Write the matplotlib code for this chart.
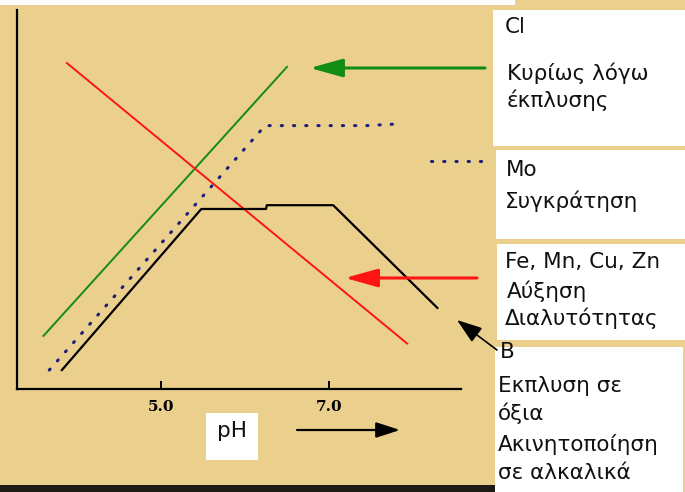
import matplotlib
matplotlib.use("Agg")
import matplotlib.pyplot as plt
from matplotlib.patches import Rectangle

# ---- data (pH vs relative availability, 0-100) ----
cl_ph = [3.60, 6.50]
cl_val = [14, 85]
fe_ph = [3.88, 7.93]
fe_val = [86, 12]
mo_ph = [3.67, 6.24, 7.45, 7.87]
mo_val = [5, 69.5, 69.5, 70]
b_ph = [3.82, 5.48, 6.25, 6.26, 7.05, 8.29]
b_val = [5, 47.5, 47.5, 48.5, 48.5, 21.4]
tick_pos = [5.0, 7.0]
tick_labels = ["5.0", "7.0"]

TAN = "#EBD08D"
GREEN = "#138c13"
RED = "#ff1414"
NAVY = "#1c1c7a"

W, H = 685, 492
fig = plt.figure(figsize=(W / 100, H / 100), dpi=100, facecolor=TAN)

# main axes: spine left x=17, right end x=461, bottom y=389, top y=10 (pixels)
L, R, B, T = 17, 461, 389, 10
ax = fig.add_axes([L / W, (H - B) / H, (R - L) / W, (B - T) / H])
ax.set_facecolor("none")
ph_per_px = 2.0 / 168
ax.set_xlim(5.0 - (161 - L) * ph_per_px, 7.0 + (R - 329) * ph_per_px)
ax.set_ylim(0, 100)
for s in ["top", "right"]:
    ax.spines[s].set_visible(False)
for s in ["left", "bottom"]:
    ax.spines[s].set_linewidth(1.6)
    ax.spines[s].set_color("black")
ax.set_yticks([])
ax.set_xticks(tick_pos)
ax.set_xticklabels(tick_labels, fontfamily="DejaVu Serif", fontweight="bold", fontsize=11)
ax.tick_params(axis="x", direction="in", length=6, width=1.4, pad=8)

DOTS = (0, (0.4, 3.6))
ax.plot(cl_ph, cl_val, color=GREEN, lw=1.4)
ax.plot(fe_ph, fe_val, color=RED, lw=1.4)
ax.plot(mo_ph, mo_val, color=NAVY, lw=2.2, linestyle=DOTS, dash_capstyle="round")
ax.plot(b_ph, b_val, color="black", lw=1.6)

# overlay in figure pixels (y downward)
ov = fig.add_axes([0, 0, 1, 1], zorder=3)
ov.set_xlim(0, W)
ov.set_ylim(H, 0)
ov.axis("off")
ov.patch.set_visible(False)

# frame strips
ov.add_patch(Rectangle((0, 0), 515, 5, color="white", lw=0))
ov.add_patch(Rectangle((0, 485), 496, 7, color="#1e1b16", lw=0))

# white boxes
for (x0, y0, x1, y1) in [(493, 10, 685, 146), (496, 150, 685, 239),
                         (497, 244, 685, 340), (495, 347, 683, 492),
                         (206, 413, 258, 460)]:
    ov.add_patch(Rectangle((x0, y0), x1 - x0, y1 - y0, facecolor="white", edgecolor="none"))

fs = 15.5
texts = [
    (505, 33, "Cl"),
    (507, 80, "Κυρίως λόγω"),
    (507, 107, "έκπλυσης"),
    (506, 176, "Mo"),
    (505, 208, "Συγκράτηση"),
    (505, 268, "Fe, Mn, Cu, Zn"),
    (507, 298, "Αύξηση"),
    (505, 325, "Διαλυτότητας"),
    (500, 358, "B"),
    (498, 392, "Εκπλυση σε"),
    (498, 420, "όξια"),
    (498, 451, "Ακινητοποίηση"),
    (498, 479, "σε αλκαλικά"),
]
for x, y, s in texts:
    ov.text(x, y, s, fontsize=fs, fontfamily="DejaVu Sans", color="#111111",
            ha="left", va="baseline")
ov.text(232, 437, "pH", fontsize=fs, fontfamily="DejaVu Sans", color="#111111",
        ha="center", va="baseline")

# Mo legend sample
ov.plot([431, 483], [161, 161], color=NAVY, lw=2.2, linestyle=DOTS,
        dash_capstyle="round")

def arrow(tail, tip, color, lw, ms, hl, hw, ls="-"):
    ov.annotate("", xy=tip, xytext=tail, xycoords="data", textcoords="data",
                arrowprops=dict(arrowstyle=f"-|>,head_length={hl},head_width={hw}",
                                mutation_scale=ms, color=color, lw=lw,
                                shrinkA=0, shrinkB=0, linestyle=ls))

arrow((485, 68), (310, 68), GREEN, 2.2, 20, 1.0, 0.28)
arrow((477, 278), (345, 278), RED, 2.2, 20, 1.0, 0.28)
arrow((497, 350), (457, 320), "black", 1.2, 12, 1.3, 0.45)
arrow((297, 430), (400, 430), "black", 1.6, 10, 1.45, 0.47)

fig.savefig("out.png", dpi=100, facecolor=TAN)
